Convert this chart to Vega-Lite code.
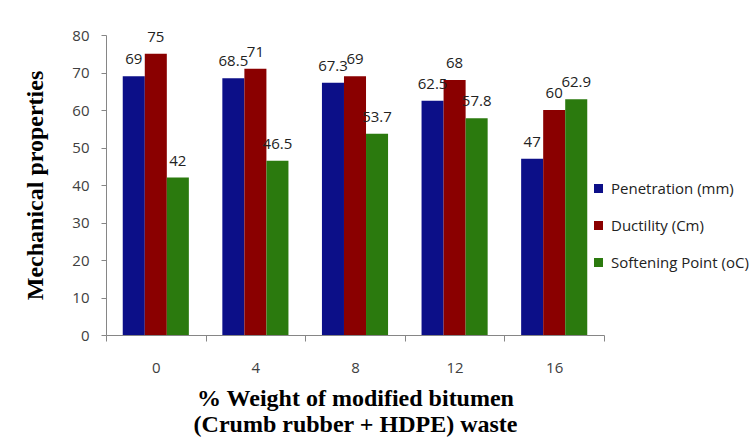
{
  "$schema": "https://vega.github.io/schema/vega-lite/v6.json",
  "width": 498,
  "height": 300,
  "autosize": {"type": "none"},
  "padding": {"left": 106, "top": 35, "right": 147, "bottom": 111},
  "background": "white",
  "data": {
    "values": [
      {"pct": "0", "prop": "Penetration (mm)", "value": 69},
      {"pct": "0", "prop": "Ductility (Cm)", "value": 75},
      {"pct": "0", "prop": "Softening Point (oC)", "value": 42},
      {"pct": "4", "prop": "Penetration (mm)", "value": 68.5},
      {"pct": "4", "prop": "Ductility (Cm)", "value": 71},
      {"pct": "4", "prop": "Softening Point (oC)", "value": 46.5},
      {"pct": "8", "prop": "Penetration (mm)", "value": 67.3},
      {"pct": "8", "prop": "Ductility (Cm)", "value": 69},
      {"pct": "8", "prop": "Softening Point (oC)", "value": 53.7},
      {"pct": "12", "prop": "Penetration (mm)", "value": 62.5},
      {"pct": "12", "prop": "Ductility (Cm)", "value": 68},
      {"pct": "12", "prop": "Softening Point (oC)", "value": 57.8},
      {"pct": "16", "prop": "Penetration (mm)", "value": 47},
      {"pct": "16", "prop": "Ductility (Cm)", "value": 60},
      {"pct": "16", "prop": "Softening Point (oC)", "value": 62.9}
    ]
  },
  "encoding": {
    "x": {
      "field": "pct",
      "type": "ordinal",
      "sort": ["0", "4", "8", "12", "16"],
      "scale": {"paddingInner": 0, "paddingOuter": 0},
      "axis": {
        "title": ["% Weight of modified bitumen", "(Crumb rubber + HDPE) waste"],
        "titleFont": "Liberation Serif",
        "titleFontSize": 24,
        "titleFontWeight": "bold",
        "titleColor": "#000000",
        "titleLineHeight": 26,
        "titlePadding": 11,
        "labelAngle": 0,
        "labelFont": "Open Sans",
        "labelFontSize": 15,
        "labelColor": "#404040",
        "labelPadding": 19,
        "tickBand": "extent",
        "tickSize": 6,
        "tickColor": "#868686",
        "domainColor": "#868686",
        "grid": false
      }
    },
    "xOffset": {
      "field": "prop",
      "sort": ["Penetration (mm)", "Ductility (Cm)", "Softening Point (oC)"],
      "scale": {"paddingInner": 0, "paddingOuter": 0.76}
    },
    "y": {
      "field": "value",
      "type": "quantitative",
      "scale": {"domain": [0, 80], "nice": false},
      "axis": {
        "title": "Mechanical properties",
        "titleFont": "Liberation Serif",
        "titleFontSize": 24,
        "titleFontWeight": "bold",
        "titleColor": "#000000",
        "titlePadding": 24,
        "values": [0, 10, 20, 30, 40, 50, 60, 70, 80],
        "labelFont": "Open Sans",
        "labelFontSize": 15,
        "labelColor": "#404040",
        "labelPadding": 12,
        "tickSize": 5,
        "tickColor": "#868686",
        "domainColor": "#868686",
        "grid": false
      }
    }
  },
  "layer": [
    {
      "mark": {"type": "bar"},
      "encoding": {
        "color": {
          "field": "prop",
          "type": "nominal",
          "sort": ["Penetration (mm)", "Ductility (Cm)", "Softening Point (oC)"],
          "scale": {
            "domain": ["Penetration (mm)", "Ductility (Cm)", "Softening Point (oC)"],
            "range": ["#0c0f88", "#8a0000", "#2b7a0e"]
          },
          "legend": {
            "title": null,
            "orient": "none",
            "legendX": 485,
            "legendY": 146,
            "padding": 0,
            "symbolType": "square",
            "symbolSize": 81,
            "symbolStrokeWidth": 0,
            "labelFont": "Open Sans",
            "labelFontSize": 15,
            "labelColor": "#222222",
            "labelOffset": 5,
            "rowPadding": 21
          }
        }
      }
    },
    {
      "mark": {"type": "text", "baseline": "bottom", "dy": -9, "font": "Open Sans", "fontSize": 15, "color": "#222222"},
      "encoding": {
        "text": {"field": "value", "type": "quantitative"}
      }
    }
  ],
  "config": {"view": {"stroke": null}}
}
